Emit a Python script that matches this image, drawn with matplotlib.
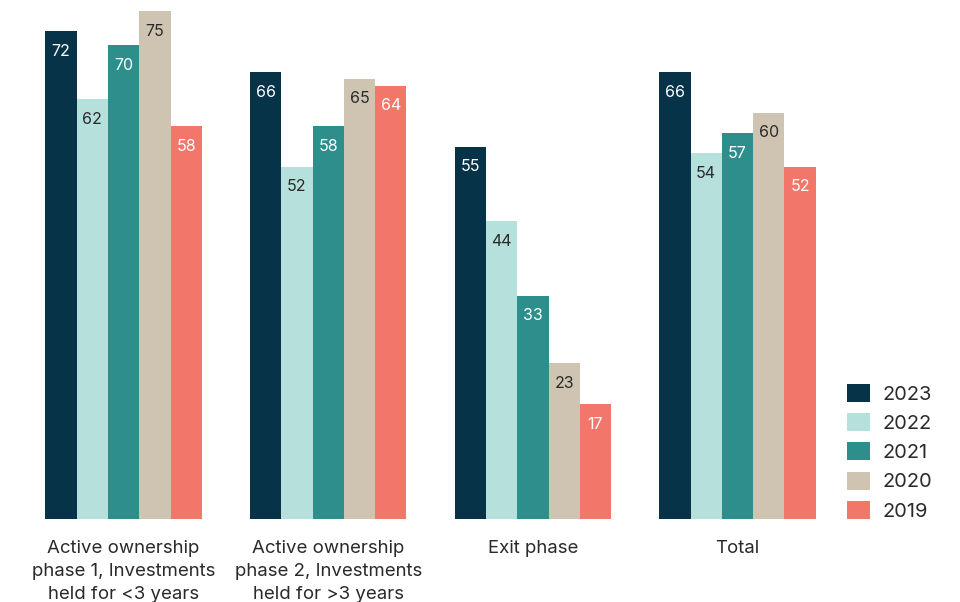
import matplotlib.pyplot as plt
import numpy as np

plt.rcParams['font.family'] = ['Inter', 'DejaVu Sans']

# Données
categories = ['Active ownership\nphase 1, Investments\nheld for <3 years',
              'Active ownership\nphase 2, Investments\nheld for >3 years',
              'Exit phase', 'Total']
years = ['2023', '2022', '2021', '2020', '2019']
v2023 = [72, 66, 55, 66]
v2022 = [62, 52, 44, 54]
v2021 = [70, 58, 33, 57]
v2020 = [75, 65, 23, 60]
v2019 = [58, 64, 17, 52]
series = [v2023, v2022, v2021, v2020, v2019]

colors = ['#073349', '#b5e0db', '#2e8e8c', '#cfc4b1', '#f2776a']
label_colors = ['white', '#2a2a2a', 'white', '#2a2a2a', 'white']

fig = plt.figure(figsize=(9.6, 6.02), dpi=100)
ax = fig.add_axes([20 / 960, 83 / 602, 810 / 960, 514 / 602])

x = np.arange(len(categories))
width = 0.153

handles = []
for i, (vals, col, lc) in enumerate(zip(series, colors, label_colors)):
    pos = x + (i - 2) * width
    bars = ax.bar(pos, vals, width=width, color=col, label=years[i])
    handles.append(bars)
    for p, v in zip(pos, vals):
        ax.annotate(str(v), (p, v), xytext=(0, -14.5), textcoords='offset points',
                    ha='center', va='center', fontsize=11.5, color=lc)

ax.set_xlim(-0.506, 3.452)
ax.set_ylim(0, 75.9)
ax.set_xticks(x)
ax.set_xticklabels(categories, fontsize=13.4, color='#2a2a2a', linespacing=1.45)
ax.tick_params(axis='x', length=0, pad=15)
ax.set_yticks([])
for s in ax.spines.values():
    s.set_visible(False)

fig.legend(handles=handles, labels=years, loc='upper left',
           bbox_to_anchor=(829 / 960, 1 - 366 / 602), frameon=False,
           fontsize=14.4, handlelength=1.15, handleheight=1.0, labelspacing=0.47,
           handletextpad=0.65, labelcolor='#2a2a2a')

fig.savefig('out.png', dpi=100)
